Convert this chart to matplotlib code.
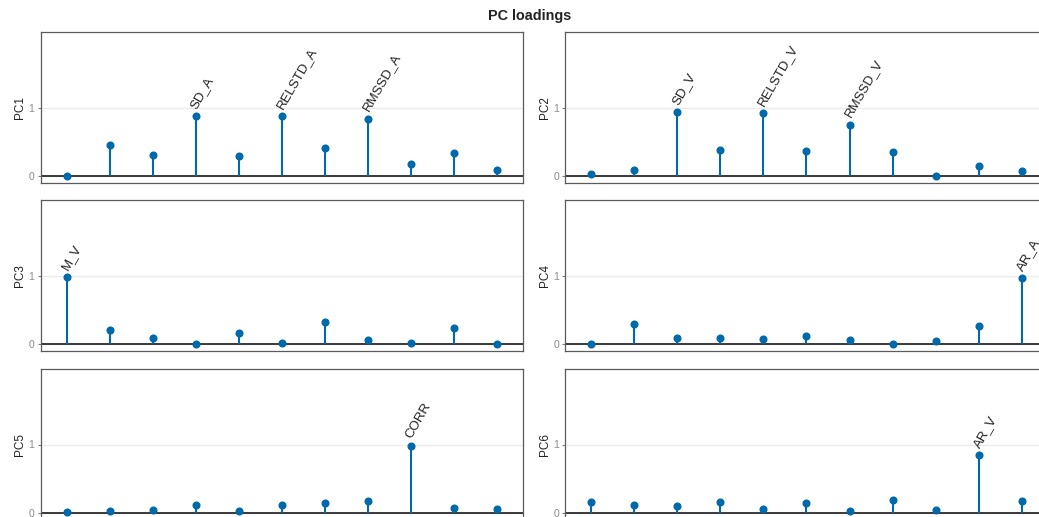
import matplotlib
matplotlib.use("Agg")
import matplotlib.pyplot as plt
from matplotlib.transforms import offset_copy

plt.rcParams['font.family'] = ['Liberation Sans', 'DejaVu Sans']

# Variables entering the PCA, in plotting order
variables = ["M_V", "M_A", "SD_V", "SD_A", "RELSTD_V", "RELSTD_A",
             "RMSSD_V", "RMSSD_A", "CORR", "AR_V", "AR_A"]

# Absolute loadings of each variable on the first six components
pc1 = [0.00, 0.454, 0.309, 0.879, 0.295, 0.874, 0.420, 0.841, 0.188, 0.338, 0.092]
pc2 = [0.029, 0.092, 0.932, 0.386, 0.928, 0.367, 0.754, 0.357, 0.005, 0.145, 0.072]
pc3 = [0.981, 0.214, 0.092, 0.005, 0.165, 0.019, 0.320, 0.063, 0.015, 0.243, 0.00]
pc4 = [0.00, 0.291, 0.087, 0.087, 0.073, 0.126, 0.063, 0.00, 0.044, 0.262, 0.966]
pc5 = [0.015, 0.034, 0.044, 0.117, 0.024, 0.121, 0.146, 0.180, 0.981, 0.073, 0.053]
pc6 = [0.155, 0.112, 0.097, 0.165, 0.063, 0.146, 0.029, 0.189, 0.039, 0.845, 0.175]

components = ["PC1", "PC2", "PC3", "PC4", "PC5", "PC6"]
loadings = [pc1, pc2, pc3, pc4, pc5, pc6]

# Only loadings above this value get their variable name written
label_threshold = 0.5

STEM = "#0069AA"
W, H = 1039, 517
fig = plt.figure(figsize=(W / 100, H / 100), dpi=100)
fig.patch.set_facecolor("white")

# Panel geometry in pixels (left edges, top of each row, sizes)
col_x = [40.7, 565.3]
panel_w, panel_h = 482.3, 151.0
row_top = [32.3, 200.3, 369.0]

xs = list(range(1, len(variables) + 1))

# Labels start a few pixels out along their own 60 degree direction
LABEL_ANGLE = 60
LABEL_GAP = 6.0  # pixels
gap_dx = LABEL_GAP * 0.5
gap_dy = LABEL_GAP * 0.8660

for i, (name, vals) in enumerate(zip(components, loadings)):
    r, c = divmod(i, 2)
    x0 = col_x[c]
    top = row_top[r]
    ax = fig.add_axes([x0 / W, 1 - (top + panel_h) / H, panel_w / W, panel_h / H])
    ax.set_facecolor("white")

    ax.set_xlim(0.4, len(variables) + 0.6)
    ax.set_ylim(-0.1, 2.1)

    ax.set_yticks([0, 1])
    ax.set_yticklabels(["0", "1"])
    ax.set_xticks([])
    ax.grid(axis="y", color="#EBEBEB", linewidth=1.0, zorder=0)
    ax.set_axisbelow(True)

    ax.axhline(0, color="#2b2b2b", linewidth=1.3, zorder=2)
    ax.vlines(xs, 0, vals, color=STEM, linewidth=1.5, zorder=3)
    ax.plot(xs, vals, "o", color=STEM, markersize=4.8, zorder=4)

    label_trans = offset_copy(ax.transData, fig=fig, x=gap_dx, y=gap_dy,
                              units="dots")
    for x, v, lab in zip(xs, vals, variables):
        if v > label_threshold:
            ax.text(x, v, lab, rotation=LABEL_ANGLE, rotation_mode="anchor",
                    ha="left", va="bottom", fontsize=9.5, color="#222222",
                    transform=label_trans, zorder=5)

    for s in ax.spines.values():
        s.set_color("#5a5a5a")
        s.set_linewidth(0.9)

    ax.tick_params(axis="y", length=2.5, width=0.8, color="#7a7a7a",
                   labelcolor="#8a8a8a", labelsize=7.5, pad=2)
    ax.set_ylabel(name, fontsize=8.5, color="#222222", labelpad=1.5)

fig.text(530 / W, 1 - 16 / H, "PC loadings", ha="center", va="center",
         fontsize=10.4, fontweight="bold", color="#222222")

fig.savefig("out.png", dpi=100, facecolor="white")
